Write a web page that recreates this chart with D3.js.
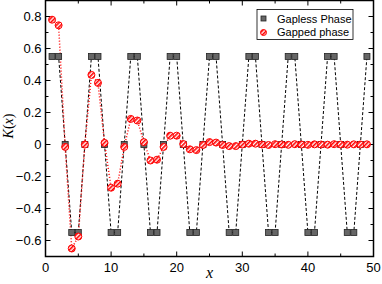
<!DOCTYPE html>
<html>
<head>
<meta charset="utf-8">
<script src="https://cdn.jsdelivr.net/npm/d3@7"></script>
<style>
  body { margin: 0; background: #fff; }
  text { font-family: 'Liberation Sans', Arial, sans-serif; }
</style>
</head>
<body>
<svg id="chart" width="382" height="284"></svg>
<script>

var xValues = [ 1, 2, 3, 4, 5, 6, 7, 8, 9, 10, 11, 12, 13, 14, 15, 16, 17, 18, 19, 20,
  21, 22, 23, 24, 25, 26, 27, 28, 29, 30, 31, 32, 33, 34, 35, 36, 37, 38, 39, 40,
  41, 42, 43, 44, 45, 46, 47, 48, 49 ];

var gapless = [ 0.55, 0.55, 0, -0.55, -0.55, 0, 0.55, 0.55, 0, -0.55, -0.55, 0,
  0.55, 0.55, 0, -0.55, -0.55, 0, 0.55, 0.55, 0, -0.55, -0.55, 0,
  0.55, 0.55, 0, -0.55, -0.55, 0, 0.55, 0.55, 0, -0.55, -0.55, 0,
  0.55, 0.55, 0, -0.55, -0.55, 0, 0.55, 0.55, 0, -0.55, -0.55, 0, 0.55 ];

var gapped = [ 0.78, 0.745, -0.015, -0.65, -0.575, 0.0, 0.435, 0.385, 0.01, -0.27,
  -0.245, -0.015, 0.16, 0.15, 0.015, -0.1, -0.095, -0.015, 0.055, 0.055,
  0.003, -0.03, -0.035, -0.003, 0.015, 0.012, -0.003, -0.01, -0.01, 0.0,
  0.005, 0.005, 0.0, -0.003, 0.002, 0.0, -0.002, 0.002, 0.0, -0.002,
  0.001, 0.0, -0.001, 0.002, 0.0, -0.001, 0.001, 0.0, 0.001 ];

var xTicks = [ 0, 10, 20, 30, 40, 50 ],
  xMinor = [ 5, 15, 25, 35, 45 ],
  yTicks = [ -0.6, -0.4, -0.2, 0, 0.2, 0.4, 0.6, 0.8 ],
  yMinor = [ -0.7, -0.5, -0.3, -0.1, 0.1, 0.3, 0.5, 0.7, 0.9 ];

var series = [ 'Gapless Phase', 'Gapped phase' ];

var svg = d3.select( '#chart' ),
  pLeft = 45.5, pRight = 373.5, pTop = 0.5, pBottom = 256.5;

var x = d3.scaleLinear().domain( [ 0, 50 ] ).range( [ pLeft, pRight ] );
var y = d3.scaleLinear().domain( [ -0.7, 0.9 ] ).range( [ pBottom, pTop ] );

// hatch for the red circles
var pat = svg.append( 'defs' ).append( 'pattern' )
  .attr( 'id', 'hatch' )
  .attr( 'patternUnits', 'userSpaceOnUse' )
  .attr( 'width', 3 )
  .attr( 'height', 3 )
  .attr( 'patternTransform', 'rotate(-45)' );
pat.append( 'rect' ).attr( 'width', 3 ).attr( 'height', 3 ).attr( 'fill', '#fff' );
pat.append( 'rect' ).attr( 'width', 3 ).attr( 'height', 1.6 ).attr( 'fill', '#f00' );

var pts = xValues.map( ( d, i ) => ( { x: d, a: gapless[ i ], b: gapped[ i ] } ) );

// ticks on all four sides, pointing in
function xticks( vals, len ) {
  var g = svg.append( 'g' ).attr( 'stroke', '#000' ).attr( 'stroke-width', 1 );
  vals.forEach( v => {
    g.append( 'line' ).attr( 'x1', x( v ) ).attr( 'x2', x( v ) ).attr( 'y1', pBottom ).attr( 'y2', pBottom - len );
    g.append( 'line' ).attr( 'x1', x( v ) ).attr( 'x2', x( v ) ).attr( 'y1', pTop ).attr( 'y2', pTop + len );
  } );
}
xticks( xTicks, 5 );
xticks( xMinor, 3 );

function yticks( vals, len ) {
  var g = svg.append( 'g' ).attr( 'stroke', '#000' ).attr( 'stroke-width', 1 );
  vals.forEach( v => {
    g.append( 'line' ).attr( 'y1', y( v ) ).attr( 'y2', y( v ) ).attr( 'x1', pLeft ).attr( 'x2', pLeft + len );
    g.append( 'line' ).attr( 'y1', y( v ) ).attr( 'y2', y( v ) ).attr( 'x1', pRight ).attr( 'x2', pRight - len );
  } );
}
yticks( yTicks, 5 );
yticks( yMinor, 3 );

svg.append( 'g' )
  .selectAll( 'text' )
  .data( xTicks ).enter().append( 'text' )
    .attr( 'x', d => x( d ) )
    .attr( 'y', pBottom + 15 )
    .attr( 'text-anchor', 'middle' )
    .attr( 'font-size', 13 )
    .text( d => d );

svg.append( 'g' )
  .selectAll( 'text' )
  .data( yTicks ).enter().append( 'text' )
    .attr( 'x', pLeft - 4 )
    .attr( 'y', d => y( d ) + 4.5 )
    .attr( 'text-anchor', 'end' )
    .attr( 'font-size', 13 )
    .text( d => d === 0 ? '0' : d3.format( '.1f' )( d ) );

// axis titles
svg.append( 'text' )
  .attr( 'transform', 'translate(13,126) rotate(-90)' )
  .attr( 'text-anchor', 'middle' )
  .style( 'font-family', "'Liberation Serif', 'Times New Roman', serif" )
  .attr( 'font-size', 14 )
  .html( '<tspan font-style="italic">K</tspan>(<tspan font-style="italic">x</tspan>)' );

svg.append( 'text' )
  .attr( 'x', x( 25 ) )
  .attr( 'y', 278 )
  .attr( 'text-anchor', 'middle' )
  .style( 'font-family', "'Liberation Serif', 'Times New Roman', serif" )
  .attr( 'font-size', 16 )
  .attr( 'font-style', 'italic' )
  .text( 'x' );

// lines
svg.append( 'path' )
  .datum( pts )
  .attr( 'fill', 'none' )
  .attr( 'stroke', '#000' )
  .attr( 'stroke-width', 1 )
  .attr( 'stroke-dasharray', '3,2' )
  .attr( 'd', d3.line().x( d => x( d.x ) ).y( d => y( d.a ) ) );

svg.append( 'path' )
  .datum( pts )
  .attr( 'fill', 'none' )
  .attr( 'stroke', '#f00' )
  .attr( 'stroke-width', 1.5 )
  .attr( 'stroke-dasharray', '1,2' )
  .attr( 'd', d3.line().x( d => x( d.x ) ).y( d => y( d.b ) ) );

// markers
svg.append( 'g' )
  .selectAll( 'rect' )
  .data( pts ).enter().append( 'rect' )
    .attr( 'x', d => x( d.x ) - 3 )
    .attr( 'y', d => y( d.a ) - 3 )
    .attr( 'width', 6 )
    .attr( 'height', 6 )
    .attr( 'fill', '#666' )
    .attr( 'stroke', '#222' )
    .attr( 'stroke-width', 0.8 );

svg.append( 'g' )
  .selectAll( 'circle' )
  .data( pts ).enter().append( 'circle' )
    .attr( 'cx', d => x( d.x ) )
    .attr( 'cy', d => y( d.b ) )
    .attr( 'r', 3.5 )
    .attr( 'fill', 'url(#hatch)' )
    .attr( 'stroke', '#f00' )
    .attr( 'stroke-width', 1 );

// frame
svg.append( 'rect' )
  .attr( 'x', pLeft )
  .attr( 'y', pTop )
  .attr( 'width', pRight - pLeft )
  .attr( 'height', pBottom - pTop )
  .attr( 'fill', 'none' )
  .attr( 'stroke', '#000' )
  .attr( 'stroke-width', 1.5 );

// legend
var legend = svg.append( 'g' ).attr( 'transform', 'translate(257,9.5)' );
legend.append( 'rect' )
  .attr( 'width', 96 )
  .attr( 'height', 30 )
  .attr( 'fill', '#fff' )
  .attr( 'stroke', '#000' )
  .attr( 'stroke-width', 0.8 );

legend.append( 'rect' )
  .attr( 'x', 4 ).attr( 'y', 6.5 ).attr( 'width', 5 ).attr( 'height', 5 )
  .attr( 'fill', '#666' ).attr( 'stroke', '#222' ).attr( 'stroke-width', 0.8 );
legend.append( 'circle' )
  .attr( 'cx', 6.5 ).attr( 'cy', 23 ).attr( 'r', 3 )
  .attr( 'fill', 'url(#hatch)' ).attr( 'stroke', '#f00' ).attr( 'stroke-width', 1 );

legend.selectAll( '.lab' )
  .data( series ).enter().append( 'text' )
    .attr( 'class', 'lab' )
    .attr( 'x', 20 )
    .attr( 'y', ( d, i ) => 13 + i * 13.5 )
    .attr( 'font-size', 11 )
    .text( d => d );

</script>
</body>
</html>
